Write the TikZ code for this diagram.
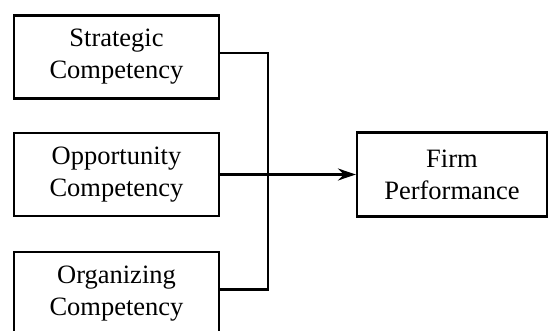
\documentclass[tikz,border=0pt]{standalone}
\usepackage{fontspec}
\setmainfont{Liberation Serif}
\usetikzlibrary{arrows.meta}
\begin{document}
\begin{tikzpicture}[x=1pt, y=-1pt,
  box/.style={draw, line width=2.2pt, minimum width=205pt, minimum height=83pt,
    inner sep=0pt, align=center, font=\fontsize{26.5}{32}\selectfont},
  link/.style={line width=2.2pt}]
% Page frame (bottom box runs off the page)
\useasboundingbox (0,0) rectangle (549,331);
\clip (0,0) rectangle (549,331);
% Competency boxes
\node[box] (strategic) at (116.5,57) {Strategic\\Competency};
\node[box] (opportunity) at (116.5,174.5) {Opportunity\\Competency};
\node[box] (organizing) at (116.5,293.5) {Organizing\\Competency};
% Outcome box
\node[box, minimum width=190pt, minimum height=84pt] (performance) at (452,174.5) {Firm\\Performance};
% Bus line joining the outer boxes
\coordinate (bus) at (268,174.5);
\draw[link] ([yshift=4pt]strategic.east) -| (bus) |- ([yshift=4pt]organizing.east);
% Main arrow
\draw[link, -{Stealth[length=18pt, width=12pt]}] (opportunity.east) -- (performance.west);
\end{tikzpicture}
\end{document}
